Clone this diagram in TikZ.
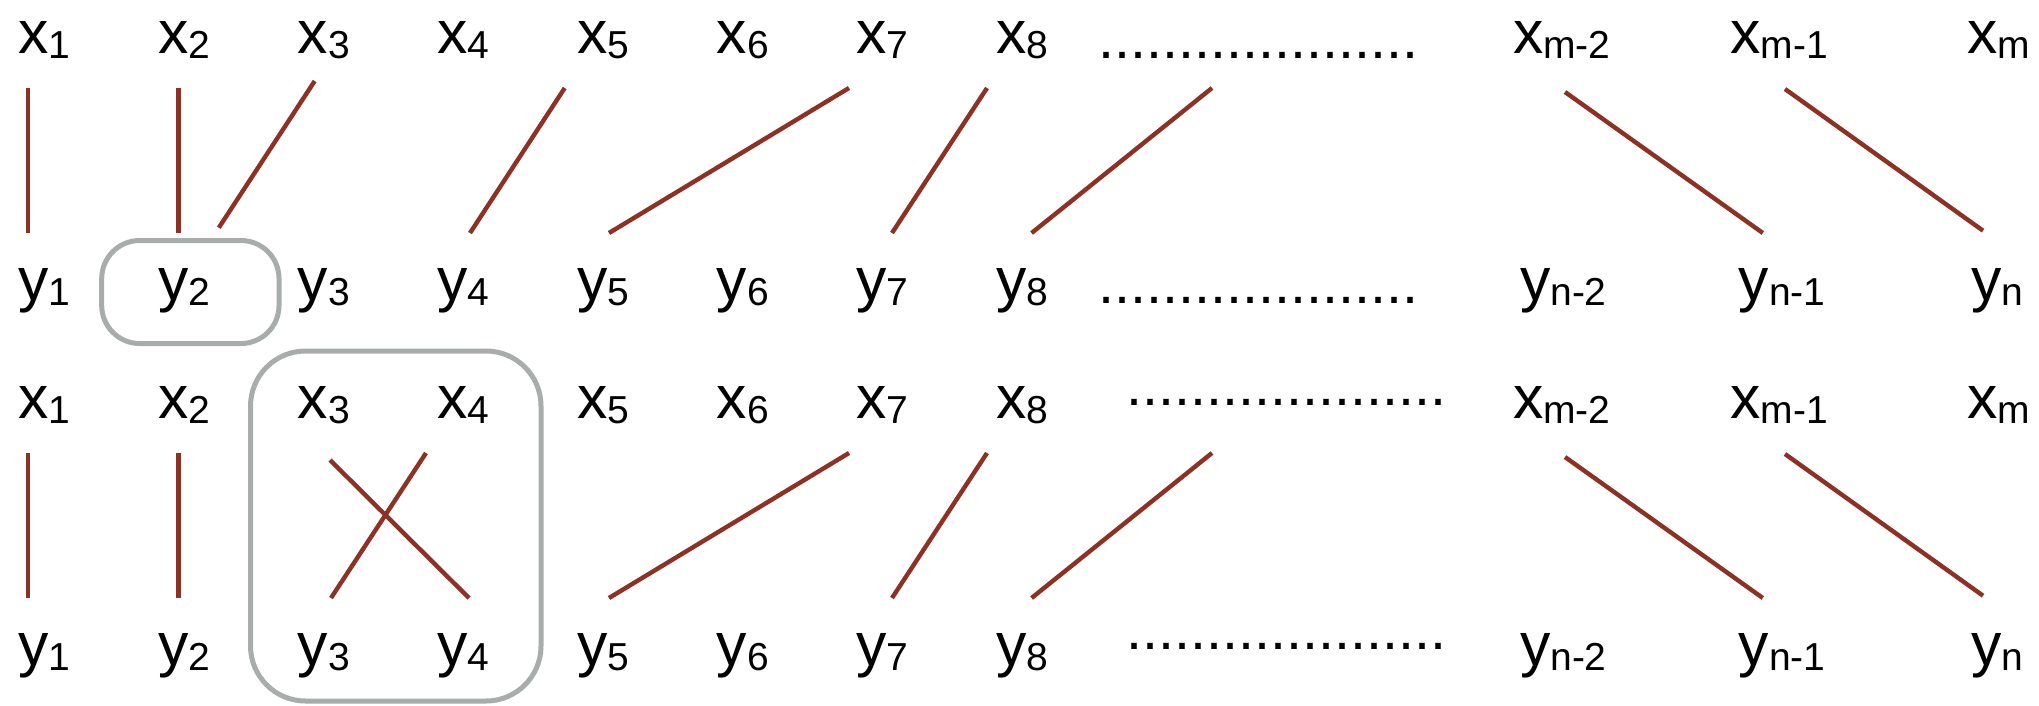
\documentclass[tikz,border=0pt]{standalone}
\usepackage{fontspec}
\setmainfont{Liberation Sans}
\definecolor{linkred}{RGB}{140,49,36}
\definecolor{framegray}{RGB}{168,172,171}
\newcommand\mainsz{\fontsize{60.6}{62}\selectfont}
\newcommand\dotsz{\fontsize{57.6}{60}\selectfont}
\newcommand\lab[2]{#1\raisebox{-5pt}{\fontsize{39}{40}\selectfont #2}}
\newcommand\dotrow{....................}
\tikzset{
  lbl/.style={anchor=base west, inner sep=0pt, outer sep=0pt, font=\mainsz},
  dotlbl/.style={anchor=base west, inner sep=0pt, outer sep=0pt, font=\dotsz},
  link/.style={draw=linkred, line width=4.4pt},
  frame/.style={draw=framegray, line width=5pt}
}
\begin{document}
\begin{tikzpicture}[x=1pt,y=-1pt]
\useasboundingbox (0,0) rectangle (2039,705);
\foreach \k in {1,...,8}{
  \pgfmathsetmacro\L{18.3+(\k-1)*139.7}
  \node[lbl] (x\k) at (\L,53) {\lab{x}{\k}};
  \node[lbl] (y\k) at (\L,300) {\lab{y}{\k}};
  \node[lbl] (p\k) at (\L,418) {\lab{x}{\k}};
  \node[lbl] (q\k) at (\L,665) {\lab{y}{\k}};
}
\node[lbl] (xm2) at (1513,53) {\lab{x}{m-2}};
\node[lbl] (xm1) at (1730.6,53) {\lab{x}{m-1}};
\node[lbl] (xm)  at (1967,53) {\lab{x}{m}};
\node[lbl] (yn2) at (1520,300) {\lab{y}{n-2}};
\node[lbl] (yn1) at (1738.8,300) {\lab{y}{n-1}};
\node[lbl] (yn)  at (1971,300) {\lab{y}{n}};
\node[lbl] (pm2) at (1513,418) {\lab{x}{m-2}};
\node[lbl] (pm1) at (1730.6,418) {\lab{x}{m-1}};
\node[lbl] (pm)  at (1967,418) {\lab{x}{m}};
\node[lbl] (qn2) at (1520,665) {\lab{y}{n-2}};
\node[lbl] (qn1) at (1738.8,665) {\lab{y}{n-1}};
\node[lbl] (qn)  at (1971,665) {\lab{y}{n}};
\node[dotlbl] (d1) at (1098.7,58.7) {\dotrow};
\node[dotlbl] (d2) at (1098.7,303) {\dotrow};
\node[dotlbl] (d3) at (1126.4,405.7) {\dotrow};
\node[dotlbl] (d4) at (1126.4,649.7) {\dotrow};
% frames
\draw[frame, rounded corners=38pt] (101.7,240.5) rectangle (279,343.5);
\draw[frame, rounded corners=55pt] (250.5,351) rectangle (541,701);
% connectors, first diagram
\draw[link] ([shift={(9.7,35)}]x1.base west) -- ([shift={(9.7,-67)}]y1.base west);
\draw[link] ([shift={(20.6,35)}]x2.base west) -- ([shift={(20.6,-67)}]y2.base west);
\draw[link] ([shift={(17,28)}]x3.base west) -- ([shift={(60.8,-72.3)}]y2.base west);
\draw[link] ([shift={(-12.4,35)}]x5.base west) -- ([shift={(32.6,-67)}]y4.base west);
\draw[link] ([shift={(-7.5,35)}]x7.base west) -- ([shift={(31.9,-67)}]y5.base west);
\draw[link] ([shift={(-9.2,35)}]x8.base west) -- ([shift={(35.5,-67)}]y7.base west);
\draw[link] ([shift={(113.3,29.3)}]d1.base west) -- ([shift={(35.4,-67)}]y8.base west);
\draw[link] ([shift={(52,39)}]xm2.base west) -- ([shift={(24,-67)}]yn1.base west);
\draw[link] ([shift={(54.4,36)}]xm1.base west) -- ([shift={(12,-69.3)}]yn.base west);
% connectors, second diagram
\draw[link] ([shift={(9.7,35)}]p1.base west) -- ([shift={(9.7,-67)}]q1.base west);
\draw[link] ([shift={(20.6,35)}]p2.base west) -- ([shift={(20.6,-67)}]q2.base west);
\draw[link] ([shift={(32.3,42)}]p3.base west) -- ([shift={(31.6,-67)}]q4.base west);
\draw[link] ([shift={(-11.4,35)}]p4.base west) -- ([shift={(33.3,-67)}]q3.base west);
\draw[link] ([shift={(-7.5,35)}]p7.base west) -- ([shift={(31.9,-67)}]q5.base west);
\draw[link] ([shift={(-9.2,35)}]p8.base west) -- ([shift={(35.5,-67)}]q7.base west);
\draw[link] ([shift={(85.6,47.3)}]d3.base west) -- ([shift={(35.4,-67)}]q8.base west);
\draw[link] ([shift={(52,39)}]pm2.base west) -- ([shift={(24,-67)}]qn1.base west);
\draw[link] ([shift={(54.4,36)}]pm1.base west) -- ([shift={(12,-69.3)}]qn.base west);
\end{tikzpicture}
\end{document}
